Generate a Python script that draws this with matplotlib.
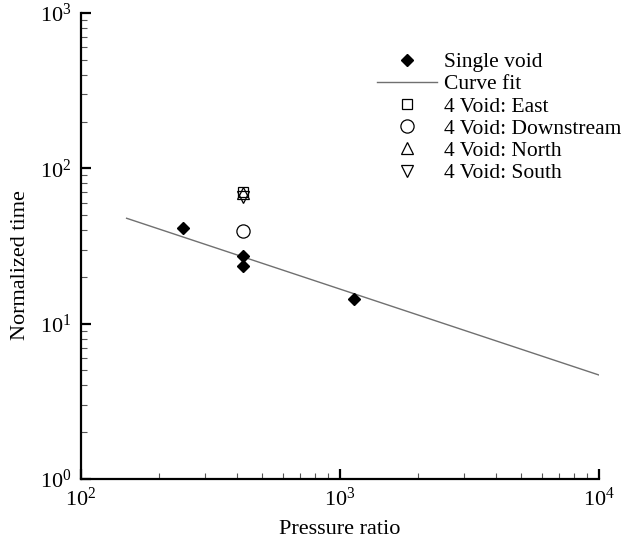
import numpy as np
from matplotlib import pyplot as plt
from matplotlib.ticker import LogLocator, NullFormatter

# Data
single_x = [248, 421, 421, 1135]
single_y = [41.5, 27.3, 23.6, 14.4]

fit_x = [150, 10000]
fit_y = [47.7, 4.67]

east_x, east_y = [421], [70.0]
down_x, down_y = [421], [39.4]
north_x, north_y = [421], [69.0]
south_x, south_y = [421], [65.7]

plt.rcParams['font.family'] = ['Liberation Serif', 'DejaVu Serif']
plt.rcParams['mathtext.fontset'] = 'custom'
plt.rcParams['mathtext.rm'] = 'Liberation Serif'
plt.rcParams['mathtext.it'] = 'Liberation Serif:italic'
plt.rcParams['mathtext.bf'] = 'Liberation Serif:bold'
plt.rc('font', size=15.5)

fig = plt.figure(figsize=(6.24, 5.46), dpi=100)
ax = fig.add_axes([81 / 624, 1 - 479 / 546, (599 - 81) / 624, (479 - 13) / 546])

ax.plot(single_x, single_y, linestyle='none', marker='D', ms=6.2,
        color='black', label='Single void', zorder=3)
ax.plot(fit_x, fit_y, color='#707070', lw=1.0, label='Curve fit', zorder=2)
ax.plot(east_x, east_y, linestyle='none', marker='s', ms=7.5, mfc='none',
        mec='black', mew=0.9, label='4 Void: East')
ax.plot(down_x, down_y, linestyle='none', marker='o', ms=9.5, mfc='none',
        mec='black', mew=0.9, label='4 Void: Downstream')
ax.plot(north_x, north_y, linestyle='none', marker='^', ms=8.5, mfc='none',
        mec='black', mew=0.9, label='4 Void: North')
ax.plot(south_x, south_y, linestyle='none', marker='v', ms=8.5, mfc='none',
        mec='black', mew=0.9, label='4 Void: South')

ax.set_xscale('log')
ax.set_yscale('log')
ax.set_xlim(100, 10000)
ax.set_ylim(1, 1000)

for side in ['top', 'right']:
    ax.spines[side].set_visible(False)
for side in ['left', 'bottom']:
    ax.spines[side].set_linewidth(1.6)

ax.xaxis.set_major_locator(LogLocator(base=10, numticks=10))
ax.yaxis.set_major_locator(LogLocator(base=10, numticks=10))
ax.xaxis.set_minor_locator(LogLocator(base=10, subs=np.arange(2, 10), numticks=20))
ax.yaxis.set_minor_locator(LogLocator(base=10, subs=np.arange(2, 10), numticks=20))
ax.xaxis.set_minor_formatter(NullFormatter())
ax.yaxis.set_minor_formatter(NullFormatter())

ax.tick_params(which='major', direction='in', length=7, width=1.6,
               labelsize=16, top=False, right=False)
ax.tick_params(which='minor', direction='in', length=4, width=0.8,
               color='#555555', top=False, right=False)
ax.tick_params(axis='x', which='major', pad=6)
ax.tick_params(axis='y', which='major', pad=7)

ax.set_xlabel('Pressure ratio', fontsize=16)
ax.set_ylabel('Normalized time', fontsize=16)
ax.xaxis.set_label_coords(0.5, -0.088)
ax.yaxis.set_label_coords(-0.098, 0.46)

fig.legend(loc='upper left', bbox_to_anchor=(377 / 624, 1 - 52 / 546),
           frameon=False, handlelength=2.8, handletextpad=0.33,
           labelspacing=0.1, borderpad=0, borderaxespad=0, fontsize=15.5)

fig.savefig('out.png', dpi=100)
